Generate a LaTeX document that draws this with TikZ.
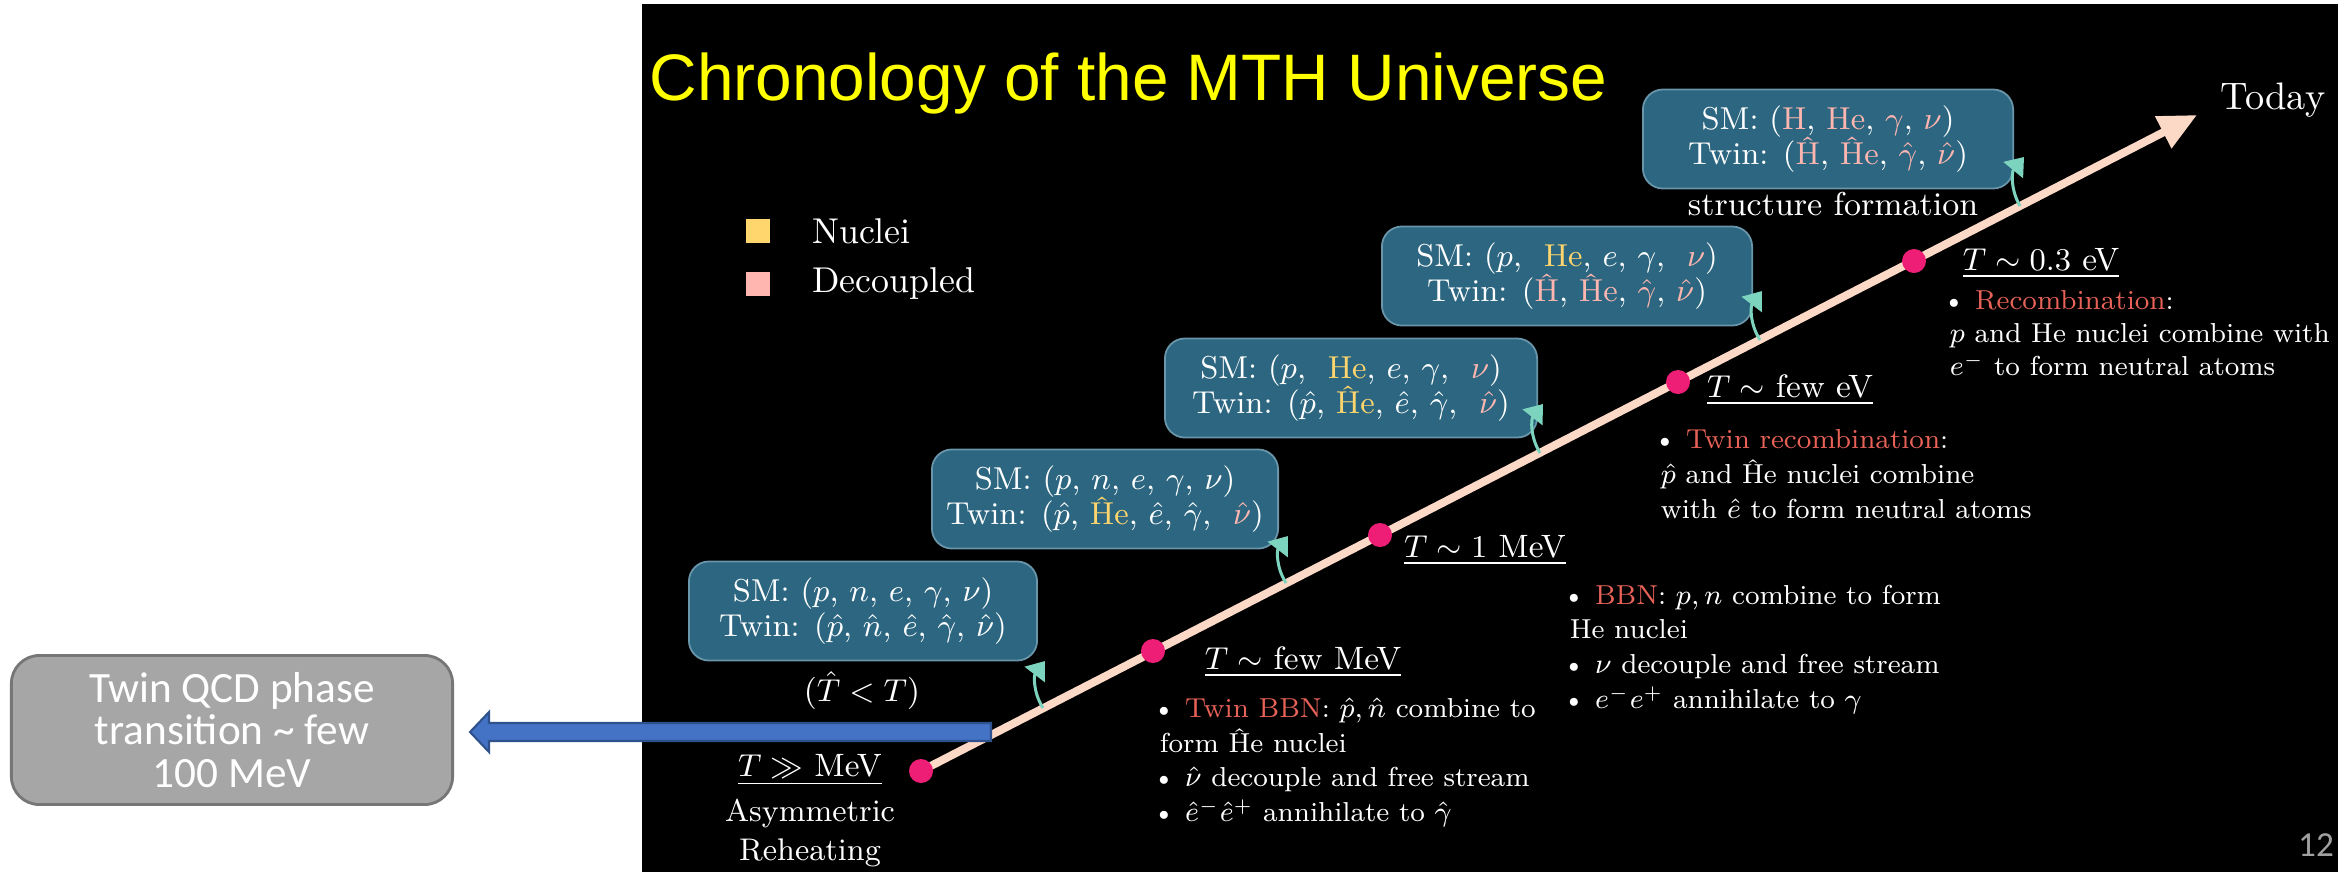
\documentclass[tikz,border=0pt]{standalone}
\usepackage{fontspec}
\newfontfamily\titlefont{Liberation Sans}
\newfontfamily\calfont{Carlito}
\usetikzlibrary{arrows.meta,positioning,calc}

\definecolor{titleyellow}{RGB}{255,255,0}
\definecolor{nucl}{RGB}{255,214,110}
\definecolor{decpl}{RGB}{255,182,176}
\definecolor{boxteal}{RGB}{44,102,128}
\definecolor{boxedge}{RGB}{105,150,170}
\definecolor{peach}{RGB}{252,216,198}
\definecolor{hotpink}{RGB}{238,30,118}
\definecolor{mint}{RGB}{125,212,190}
\definecolor{salmon}{RGB}{232,98,88}
\definecolor{qcdgray}{RGB}{166,166,166}
\definecolor{qcdedge}{RGB}{118,118,118}
\definecolor{arrblue}{RGB}{68,114,196}
\definecolor{arredge}{RGB}{47,82,143}
\definecolor{pagegray}{RGB}{160,160,160}

\begin{document}
\begin{tikzpicture}[x=0.01cm, y=-0.01cm,
  epoch/.style={draw=boxedge, line width=0.5pt, fill=boxteal, rounded corners=0.2cm,
    minimum height=0.99cm, align=center, text=white, font=\fontsize{9}{10.2}\selectfont},
  templabel/.style={text=white, font=\fontsize{9.2}{11}\selectfont},
  notetext/.style={text=white, align=left, anchor=north west, inner sep=0pt,
    font=\fontsize{7.8}{9.9}\selectfont},
  legtext/.style={text=white, font=\fontsize{10.2}{12}\selectfont},
  legsq/.style={minimum size=0.24cm, inner sep=0pt},
  tdot/.style={circle, fill=hotpink, minimum size=0.24cm, inner sep=0pt},
  timeline/.style={peach, line width=0.08cm, -{Triangle[length=0.38cm, width=0.34cm]}},
  mintarr/.style={mint, line width=0.03cm, -{Triangle[length=0.17cm, width=0.25cm]}}
]
  \useasboundingbox (0,0) rectangle (2349,872);
  \fill[white] (0,0) rectangle (2349,872);
  \fill[black] (642,4) rectangle (2338,872);

  \node[anchor=base west, inner sep=0pt, text=titleyellow,
    font=\titlefont\fontsize{18.7}{22}\selectfont] (title) at (649,100) {Chronology of the MTH Universe};

  % legend
  \node[legsq, fill=nucl] (sqn) at (758,231) {};
  \node[legsq, fill=decpl] (sqd) at (758,284) {};
  \node[legtext, right=0.29cm of sqn] (nuc) {Nuclei};
  \node[legtext, right=0.29cm of sqd] (dec) {Decoupled};

  % time axis
  \coordinate (p1) at (921,771);
  \coordinate (p2) at (1153,651);
  \coordinate (p3) at (1380,535);
  \coordinate (p4) at (1678,382);
  \coordinate (p5) at (1914,261);
  \coordinate (tip) at (2197,115);
  \draw[timeline] (p1) -- (tip);
  \foreach \i in {1,...,5}
    \node[tdot] (d\i) at (p\i) {};
  \node[text=white, font=\fontsize{10.9}{13}\selectfont] (today) at (2273,100) {Today};

  % particle content
  \node[epoch, minimum width=3.48cm] (b1) at (863,611)
    {SM: ($p$, $n$, $e$, $\gamma$, $\nu$)\\Twin: ($\hat p$, $\hat n$, $\hat e$, $\hat\gamma$, $\hat\nu$)};
  \node[epoch, minimum width=3.46cm] (b2) at (1105,499)
    {SM: ($p$, $n$, $e$, $\gamma$, $\nu$)\\Twin: ($\hat p$, \textcolor{nucl}{\^{H}e}, $\hat e$, $\hat\gamma$, \ \textcolor{decpl}{$\hat\nu$})};
  \node[epoch, minimum width=3.72cm] (b3) at (1351,388)
    {SM: ($p$, \ \textcolor{nucl}{He}, $e$, $\gamma$, \ \textcolor{decpl}{$\nu$})\\Twin: ($\hat p$, \textcolor{nucl}{\^{H}e}, $\hat e$, $\hat\gamma$, \ \textcolor{decpl}{$\hat\nu$})};
  \node[epoch, minimum width=3.70cm] (b4) at (1567,276)
    {SM: ($p$, \ \textcolor{nucl}{He}, $e$, $\gamma$, \ \textcolor{decpl}{$\nu$})\\Twin: (\textcolor{decpl}{\^{H}}, \textcolor{decpl}{\^{H}e}, \textcolor{decpl}{$\hat\gamma$}, \textcolor{decpl}{$\hat\nu$})};
  \node[epoch, minimum width=3.70cm] (b5) at (1828,139)
    {SM: (\textcolor{decpl}{H}, \textcolor{decpl}{He}, \textcolor{decpl}{$\gamma$}, \textcolor{decpl}{$\nu$})\\Twin: (\textcolor{decpl}{\^{H}}, \textcolor{decpl}{\^{H}e}, \textcolor{decpl}{$\hat\gamma$}, \textcolor{decpl}{$\hat\nu$})};
  \node[templabel] (ratio) at (862,691) {($\hat T < T$)};
  \node[templabel, font=\fontsize{9.4}{11}\selectfont] (struct) at (1833,204) {structure formation};

  % arrows from the axis up to the boxes
  \coordinate (s1) at (1043,708);  \coordinate (e1) at (1045,661);
  \coordinate (s2) at (1286,583);  \coordinate (e2) at (1288,536);
  \coordinate (s3) at (1540,453);  \coordinate (e3) at (1543,404);
  \coordinate (s4) at (1760,340);  \coordinate (e4) at (1762,291);
  \coordinate (s5) at (2020,206);  \coordinate (e5) at (2024,157);
  \foreach \i in {1,...,5}
    \draw[mintarr] (s\i) to[bend left=35] (e\i);

  % temperatures
  \node[templabel] (t1) at (810,770) {\underline{$T\gg$ MeV}};
  \node[templabel, align=center, font=\fontsize{8.9}{11.1}\selectfont] (reheat) at (810,833) {Asymmetric\\Reheating};
  \node[templabel] (t2) at (1303,662) {\underline{$T\sim$ few MeV}};
  \node[templabel] (t3) at (1485,550) {\underline{$T\sim1$ MeV}};
  \node[templabel] (t4) at (1790,390) {\underline{$T\sim$ few eV}};
  \node[templabel] (t5) at (2041,263) {\underline{$T\sim0.3$ eV}};

  \node[notetext] (twinbbn) at (1152,697)
    {\textbullet\ \textcolor{salmon}{Twin BBN}: $\hat p, \hat n$ combine to\\
     \hspace*{2pt}form \^{H}e nuclei\\
     \textbullet\ $\hat\nu$ decouple and free stream\\
     \textbullet\ $\hat e^-\hat e^+$ annihilate to $\hat\gamma$};
  \node[notetext] (bbn) at (1562,584)
    {\textbullet\ \textcolor{salmon}{BBN}: $p, n$ combine to form\\
     \hspace*{2pt}He nuclei\\
     \textbullet\ $\nu$ decouple and free stream\\
     \textbullet\ $e^-e^+$ annihilate to $\gamma$};
  \node[notetext] (twinrec) at (1653,429)
    {\textbullet\ \textcolor{salmon}{Twin recombination}:\\
     \hspace*{2pt}$\hat p$ and \^{H}e nuclei combine\\
     \hspace*{2pt}with $\hat e$ to form neutral atoms};
  \node[notetext, font=\fontsize{7.8}{9.3}\selectfont] (rec) at (1942,290)
    {\textbullet\ \textcolor{salmon}{Recombination}:\\
     \hspace*{2pt}$p$ and He nuclei combine with\\
     \hspace*{2pt}$e^-$ to form neutral atoms};

  % twin QCD side note
  \node[draw=qcdedge, line width=0.8pt, fill=qcdgray, rounded corners=0.28cm,
    minimum width=4.41cm, minimum height=1.49cm, align=center, text=white,
    font=\calfont\fontsize{12.3}{12}\selectfont] (qcd) at (232,730)
    {Twin QCD phase\\transition \textasciitilde\ few\\100 MeV};
  \draw[draw=arredge, fill=arrblue, line width=0.6pt]
    ($(qcd.east)+(16,2)$) -- ++(19,-20) -- ++(0,11) -- ++(502,0) -- ++(0,18)
    -- ++(-502,0) -- ++(0,11) -- cycle;

  \node[text=pagegray, font=\calfont\fontsize{10}{12}\selectfont] (page) at (2316,845) {12};
\end{tikzpicture}
\end{document}
